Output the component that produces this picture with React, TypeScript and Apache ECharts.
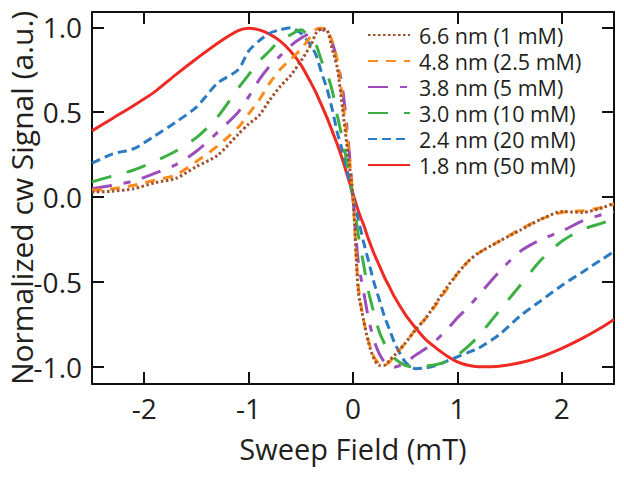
import React, { useEffect, useRef } from "react";
import * as echarts from "echarts";

const X = [-2.5, -2.3, -2.1, -1.9, -1.7, -1.5, -1.3, -1.1, -1.0, -0.9, -0.8, -0.7, -0.6, -0.5, -0.4, -0.35, -0.3, -0.25, -0.2, -0.15, -0.1, -0.05, 0, 0.05, 0.1, 0.15, 0.2, 0.25, 0.3, 0.35, 0.4, 0.5, 0.6, 0.7, 0.8, 0.9, 1.0, 1.1, 1.2, 1.4, 1.6, 1.8, 2.0, 2.2, 2.4, 2.5];

const y66 = [0.03, 0.035, 0.05, 0.085, 0.11, 0.18, 0.245, 0.37, 0.43, 0.48, 0.57, 0.65, 0.715, 0.8, 0.9, 0.97, 0.99, 0.985, 0.875, 0.76, 0.52, 0.26, 0.0, -0.55, -0.72, -0.86, -0.95, -0.99, -0.99, -0.96, -0.93, -0.86, -0.78, -0.71, -0.62, -0.53, -0.45, -0.38, -0.33, -0.26, -0.195, -0.13, -0.085, -0.09, -0.06, -0.035];
const y48 = [0.04, 0.05, 0.07, 0.1, 0.13, 0.21, 0.3, 0.41, 0.49, 0.57, 0.67, 0.75, 0.81, 0.87, 0.95, 0.99, 0.995, 0.98, 0.92, 0.8, 0.57, 0.32, 0.0, -0.52, -0.72, -0.85, -0.94, -0.98, -0.99, -0.97, -0.93, -0.86, -0.78, -0.71, -0.63, -0.54, -0.45, -0.38, -0.33, -0.26, -0.19, -0.13, -0.09, -0.08, -0.06, -0.04];
const y38 = [0.05, 0.07, 0.095, 0.14, 0.19, 0.27, 0.38, 0.5, 0.59, 0.69, 0.77, 0.83, 0.89, 0.935, 0.97, 0.985, 0.99, 0.96, 0.91, 0.8, 0.64, 0.36, 0.0, -0.38, -0.55, -0.72, -0.84, -0.92, -0.97, -0.99, -1.0, -0.975, -0.93, -0.89, -0.84, -0.78, -0.71, -0.65, -0.58, -0.44, -0.32, -0.25, -0.2, -0.14, -0.1, -0.085];
const y30 = [0.09, 0.125, 0.16, 0.21, 0.27, 0.35, 0.47, 0.64, 0.72, 0.8, 0.86, 0.925, 0.955, 0.985, 0.93, 0.89, 0.8, 0.73, 0.63, 0.48, 0.34, 0.18, 0.0, -0.22, -0.39, -0.56, -0.68, -0.79, -0.86, -0.91, -0.95, -0.99, -1.0, -0.995, -0.985, -0.965, -0.93, -0.88, -0.82, -0.67, -0.52, -0.37, -0.26, -0.19, -0.15, -0.13];
const y24 = [0.2, 0.255, 0.285, 0.36, 0.44, 0.53, 0.67, 0.75, 0.86, 0.92, 0.965, 0.985, 0.997, 0.965, 0.89, 0.83, 0.73, 0.64, 0.52, 0.38, 0.27, 0.14, 0.0, -0.13, -0.26, -0.38, -0.5, -0.6, -0.7, -0.78, -0.86, -0.97, -1.01, -1.005, -0.99, -0.965, -0.94, -0.915, -0.89, -0.81, -0.7, -0.61, -0.52, -0.44, -0.36, -0.32];
const y18 = [0.39, 0.465, 0.54, 0.62, 0.72, 0.815, 0.905, 0.98, 0.995, 0.985, 0.96, 0.92, 0.86, 0.78, 0.67, 0.61, 0.54, 0.47, 0.39, 0.31, 0.22, 0.12, 0.02, -0.08, -0.16, -0.25, -0.33, -0.4, -0.47, -0.53, -0.59, -0.69, -0.77, -0.84, -0.89, -0.935, -0.97, -0.99, -0.998, -0.995, -0.975, -0.94, -0.89, -0.83, -0.76, -0.72];

const seriesNames = ["6.6 nm (1 mM)", "4.8 nm (2.5 mM)", "3.8 nm (5 mM)", "3.0 nm (10 mM)", "2.4 nm (20 mM)", "1.8 nm (50 mM)"];
const seriesValues = [y66, y48, y38, y30, y24, y18];
const colors = ["#a0522d", "#ff8c1a", "#9b4dbb", "#3cb043", "#2b7bc4", "#ee2a24"];
const dashes: any[] = [[2.5, 2.5], [10, 8], [20, 12, 7, 12], [20, 16], [9, 5], "solid"];

const xTicks = [-2, -1, 0, 1, 2];
const yTicks = [-1, -0.5, 0, 0.5, 1];

const FONT = "Open Sans";

export default function App() {
  const ref = useRef<HTMLDivElement>(null);
  useEffect(() => {
    if (!ref.current) return;
    const chart = echarts.init(ref.current, undefined, { renderer: "svg" });
    const axisLine = { show: true, onZero: false, lineStyle: { color: "#111", width: 2 } };
    const tick = { show: true, inside: true, length: 12, lineStyle: { color: "#111", width: 2 } };
    const option: any = {
      animation: false,
      backgroundColor: "#fff",
      grid: { left: 92, right: 10, top: 12, bottom: 98, containLabel: false, outerBoundsMode: "none" },
      legend: {
        orient: "vertical",
        left: 362,
        top: 18,
        itemWidth: 42,
        itemHeight: 14,
        itemGap: 2,
        itemStyle: { opacity: 0 },
        data: seriesNames,
        textStyle: { fontFamily: FONT, fontSize: 21.5, color: "#231f20", lineHeight: 24, padding: [0, 0, 0, 4] },
      },
      xAxis: [
        {
          type: "value",
          min: -2.5,
          max: 2.5,
          position: "bottom",
          axisLine,
          axisTick: { ...tick, customValues: xTicks },
          splitLine: { show: false },
          axisLabel: { customValues: xTicks, margin: 10, fontFamily: FONT, fontSize: 28, color: "#231f20", formatter: (v: number) => String(v) },
          name: "Sweep Field (mT)",
          nameLocation: "middle",
          nameGap: 50,
          nameMoveOverlap: false,
          nameTextStyle: { fontFamily: FONT, fontSize: 29, color: "#231f20" },
        },
        {
          type: "value",
          min: -2.5,
          max: 2.5,
          position: "top",
          axisLine,
          axisTick: { ...tick, customValues: xTicks },
          splitLine: { show: false },
          axisLabel: { show: false },
        },
      ],
      yAxis: [
        {
          type: "value",
          min: -1.1,
          max: 1.09,
          position: "left",
          axisLine,
          axisTick: { ...tick, customValues: yTicks },
          splitLine: { show: false },
          axisLabel: { customValues: yTicks, margin: 10, fontFamily: FONT, fontSize: 28, color: "#231f20", formatter: (v: number) => v.toFixed(1) },
          name: "Normalized cw Signal (a.u.)",
          nameLocation: "middle",
          nameGap: 56,
          nameMoveOverlap: false,
          nameTextStyle: { fontFamily: FONT, fontSize: 30, color: "#231f20" },
        },
        {
          type: "value",
          min: -1.1,
          max: 1.09,
          position: "right",
          axisLine,
          axisTick: { ...tick, customValues: yTicks },
          splitLine: { show: false },
          axisLabel: { show: false },
        },
      ],
      series: seriesNames.map((name, i) => ({
        name,
        type: "line",
        xAxisIndex: 0,
        yAxisIndex: 0,
        symbol: "none",
        smooth: 0.25,
        z: 10 - i,
        data: X.map((x, j) => [x, seriesValues[i][j]]),
        itemStyle: { color: colors[i] },
        lineStyle: { color: colors[i], width: 3, type: dashes[i] },
      })),
    };
    chart.setOption(option);
    return () => chart.dispose();
  }, []);
  return <div ref={ref} style={{ position: "fixed", left: 0, top: 0, width: 624, height: 482 }} />;
}
